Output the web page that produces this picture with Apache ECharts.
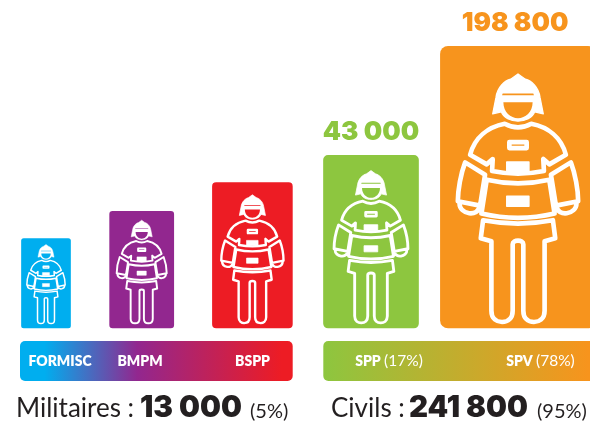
<!DOCTYPE html>
<html>
<head>
<meta charset="utf-8">
<title>Sapeurs-pompiers</title>
<style>
html, body { margin: 0; padding: 0; background: #fff; overflow: hidden; }
#chart { width: 590px; height: 422px; }
</style>
<script src="https://cdn.jsdelivr.net/npm/echarts@6/dist/echarts.min.js"></script>
</head>
<body>
<div id="chart"></div>
<script>
// data (heights are the drawn heights, the bars are not to scale)
var categories = ['FORMISC', 'BMPM', 'BSPP', 'SPP', 'SPV'];
var barHeights = [90, 117.3, 146, 173.3, 282.3];
var barCentres = [46, 141.7, 252.4, 371, 518];
var valueLabels = ['', '', '', '43 000', '198 800'];
var shareLabels = ['', '', '', '(17%)', '(78%)'];
var labelCentres = [60, 140, 252.5, 389, 540.5];

var groupNames = ['Militaires :', 'Civils :'];
var groupTotals = ['13 000', '241 800'];
var groupShares = ['(5%)', '(95%)'];
var groupStart = [20, 323.3];
var groupEnd = [292.7, 596];

var barColors = ['#00AEEF', '#92278F', '#ED1C24', '#8DC63F', '#F7941D'];
var bandStops = [
    [[0.09, '#00AEEF'], [0.43, '#92278F'], [0.96, '#ED1C24']],
    [[0, '#8DC63F'], [0.97, '#F7941D']]
];

var BAR_ASPECT = 0.552;
var FONT = 'Lato, "Open Sans", sans-serif';
var HEAVY = 'Inter, "Open Sans", sans-serif';

// firefighter icon, local units: x centred, y from helmet top to boots (0..753)
var iconLines = 'M-78 292L-76 256L-94 272L-144 243C-130 190-90 160-40 150Q0 172 40 150C90 160 130 190 144 243L94 272L76 256L78 292Q0 308-78 292Z'
    + 'M-94 318Q0 340 94 318L110 420Q0 446-110 420Z'
    + 'M-105 440Q0 460 105 440L112 494L80 503L80 712C80 738 62 746 48 746C30 746 16 735 16 712L16 512C16 498-16 498-16 512L-16 712C-16 735-30 746-48 746C-62 746-80 738-80 712L-80 503L-112 494Z'
    + 'M-159 266C-172 300-181 350-181 383L-114 396L-99 303Z'
    + 'M159 266C172 300 181 350 181 383L114 396L99 303Z'
    + 'M-176 388C-176 425-118 430-116 398'
    + 'M176 388C176 425 118 430 116 398'
    + 'M-26 205H26V223H-26Z';
var iconSolid = 'M-76 120L-66 70C-62 40-40 20-22 16L0 0L22 16C40 20 62 40 66 70L76 120L50 114C44 132 22 142 0 142C-22 142-44 132-50 114Z'
    + 'M-34 265H33V295H-34Z'
    + 'M-34 368H33V398H-34Z';
var iconHoles = 'M-46 59H46L48 64H-48Z'
    + 'M-44 85H44C44 115 22 133 0 133C-22 133-44 115-44 85Z';

function renderBar(params, api) {
    var i = params.dataIndex;
    var h = api.value(1);
    var base = api.coord([api.value(0), 0]);
    var size = api.size([BAR_ASPECT * h, h]);
    var w = size[0], hPx = size[1];
    var s = hPx / 849;
    var iconX = base[0], iconY = base[1] - 4 - 753 * s;
    function iconPath(d, style) {
        return { type: 'path', x: iconX, y: iconY, scaleX: s, scaleY: s, shape: { pathData: d }, style: style };
    }
    var children = [
        {
            type: 'rect',
            shape: { x: base[0] - w / 2, y: base[1] - hPx, width: w, height: hPx, r: hPx * 0.028 },
            style: { fill: barColors[i] }
        },
        iconPath(iconLines, { fill: null, stroke: '#fff', lineWidth: 14, lineJoin: 'round', lineCap: 'round' }),
        iconPath(iconSolid, { fill: '#fff', stroke: '#fff', lineWidth: 4, lineJoin: 'round' }),
        iconPath(iconHoles, { fill: barColors[i] })
    ];
    if (valueLabels[i]) {
        children.push({
            type: 'text',
            x: base[0] + (i === 4 ? -3 : 0),
            y: base[1] - hPx - 23,
            style: {
                text: valueLabels[i], fill: barColors[i], align: 'center', verticalAlign: 'middle',
                font: '900 26px ' + HEAVY
            }
        });
    }
    return { type: 'group', children: children };
}

function renderBand(params, api) {
    var i = params.dataIndex;
    var a = api.coord([groupStart[i], -12.7]);
    var b = api.coord([groupEnd[i], -52.7]);
    var stops = bandStops[i].map(function (d) { return { offset: d[0], color: d[1] }; });
    return {
        type: 'rect',
        shape: { x: a[0], y: a[1], width: b[0] - a[0], height: b[1] - a[1], r: 5 },
        style: { fill: new echarts.graphic.LinearGradient(0, 0, 1, 0, stops) }
    };
}

function renderBandLabel(params, api) {
    var i = params.dataIndex;
    var p = api.coord([api.value(0), -33]);
    return {
        type: 'text', x: p[0], y: p[1],
        style: {
            text: '{b|' + categories[i] + '}' + (shareLabels[i] ? ' {r|' + shareLabels[i] + '}' : ''),
            align: 'center', verticalAlign: 'middle',
            rich: {
                b: { font: '800 14px ' + FONT, fill: '#fff' },
                r: { font: '400 15.5px ' + FONT, fill: '#fff' }
            }
        }
    };
}

function footerText(x, y, text, font) {
    return { type: 'text', x: x, y: y, style: { text: text, font: font, fill: '#231F20', textVerticalAlign: 'middle' } };
}

var myChart = echarts.init(document.getElementById('chart'), null, { renderer: 'canvas' });
myChart.setOption({
    animation: false,
    backgroundColor: '#fff',
    grid: { left: 0, right: 0, top: 0, bottom: 0 },
    xAxis: { type: 'value', min: 0, max: 590, show: false },
    yAxis: { type: 'value', min: -93.7, max: 328.3, show: false },
    graphic: [
        footerText(16, 409, groupNames[0], '400 26px ' + FONT),
        footerText(140, 408, groupTotals[0], '900 29.5px ' + HEAVY),
        footerText(250, 412, groupShares[0], '400 20px ' + FONT),
        footerText(331, 409, groupNames[1], '400 26px ' + FONT),
        footerText(409, 408, groupTotals[1], '900 29.5px ' + HEAVY),
        footerText(537, 412, groupShares[1], '400 20px ' + FONT)
    ],
    series: [
        {
            type: 'custom', clip: false, coordinateSystem: 'cartesian2d',
            renderItem: renderBand,
            data: groupStart.map(function (d, i) { return [d, groupEnd[i]]; }),
            encode: { x: [0, 1] }
        },
        {
            type: 'custom', clip: false, coordinateSystem: 'cartesian2d',
            renderItem: renderBar,
            data: barCentres.map(function (d, i) { return [d, barHeights[i]]; }),
            encode: { x: 0, y: 1 }
        },
        {
            type: 'custom', clip: false, coordinateSystem: 'cartesian2d',
            renderItem: renderBandLabel,
            data: labelCentres.map(function (d) { return [d]; }),
            encode: { x: 0 }
        }
    ]
});
</script>
</body>
</html>
